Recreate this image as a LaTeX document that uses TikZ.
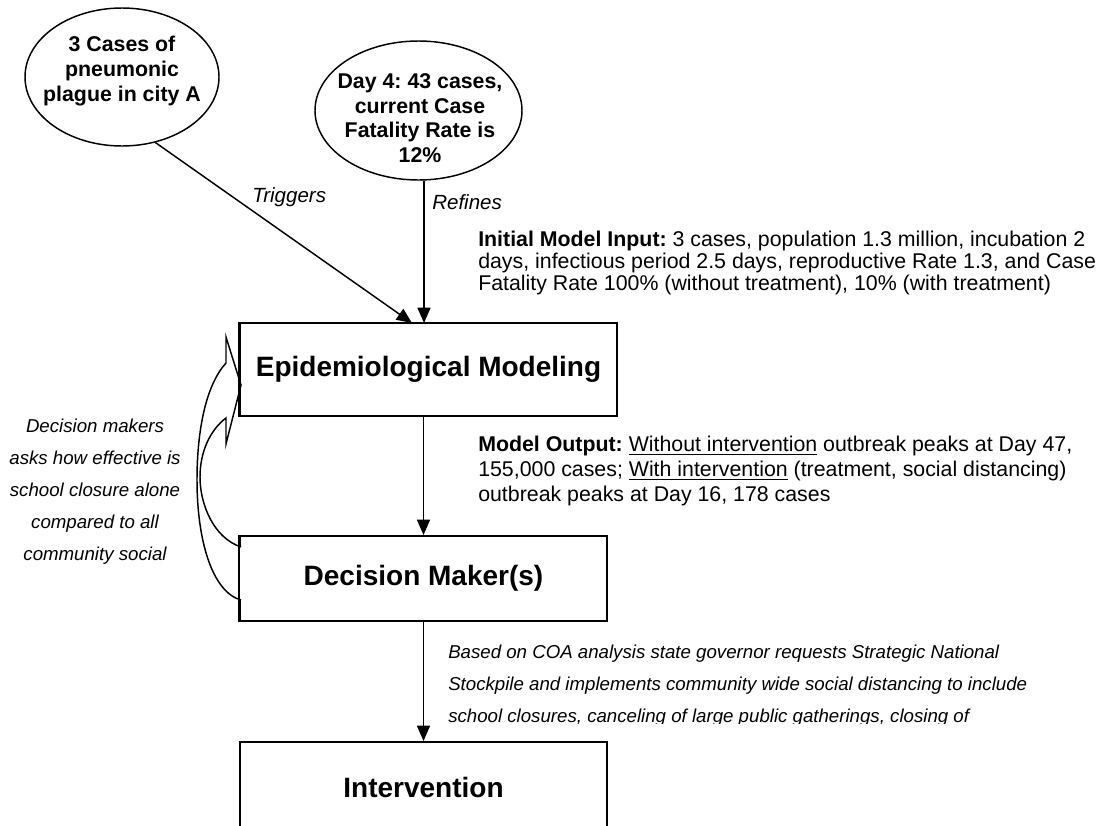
\documentclass[tikz,border=0pt]{standalone}
\usepackage{fontspec}
\setmainfont{Liberation Sans}
\usetikzlibrary{arrows.meta,shapes.geometric}
\frenchspacing

\begin{document}
\begin{tikzpicture}[x=0.75pt,y=-0.75pt,
  stage/.style={draw,line width=1.5pt,rectangle,inner sep=0pt,
    font=\fontsize{21}{25}\selectfont\bfseries},
  bubble/.style={draw,line width=1.1pt,ellipse,inner sep=0pt},
  bubbletext/.style={inner sep=0pt,align=center,
    font=\fontsize{16}{18.4}\selectfont\bfseries},
  link/.style={line width=1.1pt,-{Triangle[width=9.75pt,length=11.5pt]}},
  linklabel/.style={inner sep=0pt,font=\fontsize{15.4}{18}\selectfont\itshape},
  note/.style={inner sep=0pt,align=left,anchor=north west},
  remark/.style={inner sep=0pt,font=\fontsize{14}{24}\selectfont\itshape}
]
\clip (0,0) rectangle (1103,825);

% source events
\node[bubble,minimum width=145.5pt,minimum height=103.5pt] (cases) at (122,77) {};
\node[bubbletext] (casestext) at (122,71) {3 Cases of\\pneumonic\\plague in city A};
\node[bubble,minimum width=155.25pt,minimum height=104.25pt] (day4) at (418.5,110.5) {};
\node[bubbletext] (day4text) at (420,118) {Day 4: 43 cases,\\current Case\\Fatality Rate is\\12\%};

% process stages
\node[stage,minimum width=282.75pt,minimum height=69.75pt] (epi) at (428.5,369.5) {Epidemiological Modeling};
\node[stage,minimum width=275.25pt,minimum height=63.75pt] (dec) at (423.5,578.5) {Decision Maker(s)};
\node[stage,minimum width=275.25pt,minimum height=67.5pt] (int) at (423.5,787) {Intervention};

% connectors
\coordinate (trigin) at (412,323);
\draw[link] (cases.-63) -- (trigin);
\coordinate (refin) at (424,323);
\draw[link] (day4.south -| refin) -- (refin);
\draw[link] (epi.south -| dec.north) -- (dec.north);
\draw[link] (dec.south) -- (int.north);

\node[linklabel,anchor=base west] (trig) at (252,202) {Triggers};
\node[linklabel,anchor=base west] (refi) at (432,209) {Refines};

% feedback block arrow from decision makers back to modeling
\draw[line width=1.1pt,fill=white]
  (241,547) .. controls (214,538) and (200,505) .. (200,477)
  .. controls (200,452) and (210,430) .. (226,418)
  -- (226,444) -- (241,385) -- (226,337) -- (226,363)
  .. controls (206,385) and (197,430) .. (197,480)
  .. controls (197,540) and (212,592) .. (241,600);
\draw[line width=1.5pt] (dec.north west) -- (dec.south west);
\draw[line width=1.5pt] (epi.north west) -- (epi.south west);

% annotations
\node[note,font=\fontsize{16}{16.3}\selectfont] (input) at (478,231)
  {\textbf{Initial Model Input:} 3 cases, population 1.3 million, incubation 2\\
   days, infectious period 2.5 days, reproductive Rate 1.3, and Case\\
   Fatality Rate 100\% (without treatment), 10\% (with treatment)};
\node[note,font=\fontsize{16}{18.75}\selectfont] (output) at (478,436)
  {\textbf{Model Output:} \underline{Without intervention} outbreak peaks at Day 47,\\
   155,000 cases; \underline{With intervention} (treatment, social distancing)\\
   outbreak peaks at Day 16, 178 cases};
\node[remark,align=center,anchor=north] (ask) at (95,419)
  {Decision makers\\asks how effective is\\school closure alone\\compared to all\\community social};
\begin{scope}
  \clip (430,600) rectangle (1103,723);
  \node[remark,align=left,anchor=north west] (coa) at (448,645)
    {Based on COA analysis state governor requests Strategic National\\
     Stockpile and implements community wide social distancing to include\\
     school closures, canceling of large public gatherings, closing of};
\end{scope}
\end{tikzpicture}
\end{document}
